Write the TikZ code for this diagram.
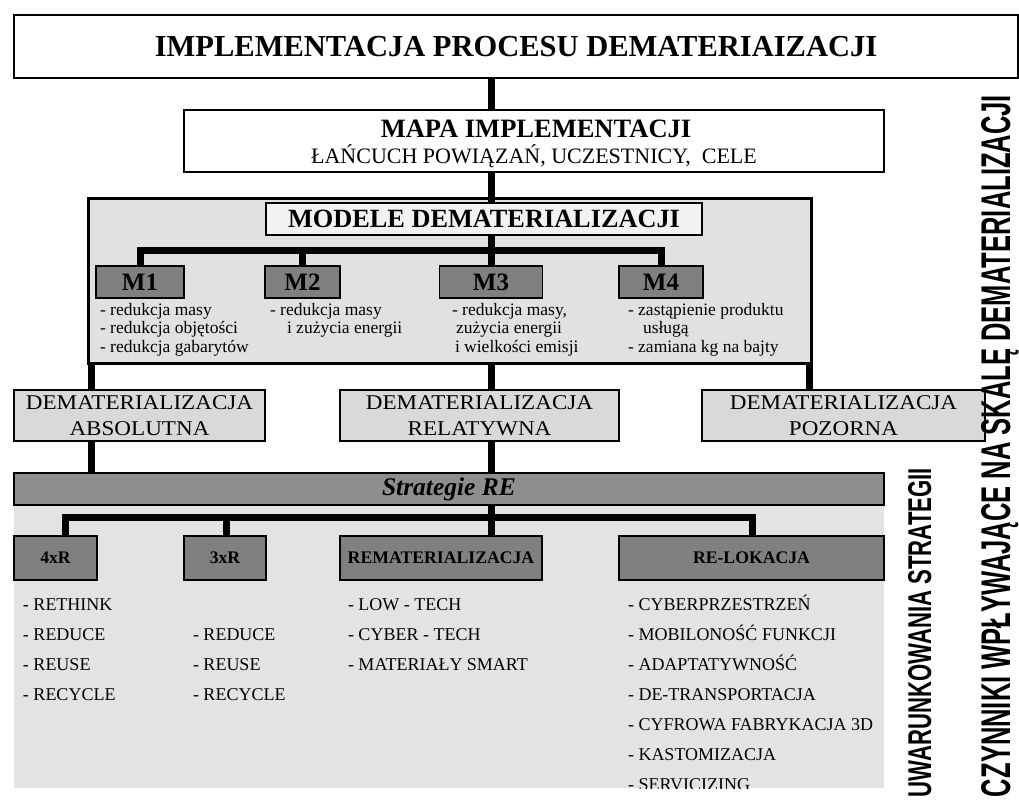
\documentclass[tikz,border=0pt]{standalone}
\usepackage{fontspec}
\usepackage{graphicx}
\setmainfont{Liberation Serif}
\newfontfamily\wideserif{Liberation Serif}[FakeStretch=1.1]
\newfontfamily\rotsans{Liberation Sans}
\pgfdeclarelayer{back}
\pgfdeclarelayer{mid}
\pgfsetlayers{back,mid,main}
\newcommand{\fsz}[1]{\fontsize{#1}{#1}\selectfont}
\definecolor{areafill}{HTML}{E1E1E1}
\definecolor{lowfill}{HTML}{E3E3E3}
\definecolor{darkfill}{HTML}{808080}
\definecolor{stratfill}{HTML}{8E8E8E}
\definecolor{dematfill}{HTML}{D9D9D9}
\definecolor{modfill}{HTML}{F2F2F2}
\begin{document}
\begin{tikzpicture}[x=1pt,y=-1pt,
  conn/.style={line width=7pt, draw=black, line join=miter},
  boxbase/.style={draw=black, inner sep=0pt, outer sep=0pt},
  whitebox/.style={boxbase, fill=white, line width=1.5pt},
  areabox/.style={boxbase, fill=areafill, line width=3pt},
  modbox/.style={boxbase, fill=modfill, line width=1.5pt},
  mbox/.style={boxbase, fill=darkfill, line width=1.2pt, font=\bfseries\fsz{25}},
  dematbox/.style={boxbase, fill=dematfill, line width=1.2pt, align=center, font=\wideserif\fontsize{21}{26}\selectfont},
  stratbox/.style={boxbase, fill=stratfill, line width=1.2pt, font=\bfseries\itshape\fsz{25.5}},
  rbox/.style={boxbase, fill=darkfill, line width=1.2pt, minimum height=44pt, font=\bfseries\fsz{17.7}},
  txt/.style={inner sep=0pt, outer sep=0pt},
  mtxt/.style={txt, anchor=base west, font=\fsz{17.5}},
  lst/.style={txt, anchor=base west, font=\fsz{18}},
  rottxt/.style={txt, rotate=90, anchor=base east}
]
\useasboundingbox (0,0) rectangle (1019,800);

% ---------- background areas ----------
\begin{pgfonlayer}{back}
  \node[areabox, minimum width=723pt, minimum height=165pt] (models) at (449.5,280.5) {};
  \node[txt, fill=lowfill, minimum width=870pt, minimum height=283pt] (lower) at (449,646.5) {};
\end{pgfonlayer}

% ---------- boxes ----------
\node[whitebox, minimum width=1004pt, minimum height=63pt, font=\bfseries\fsz{30.5}] (title) at (516,46.5) {IMPLEMENTACJA PROCESU DEMATERIAIZACJI};

\node[whitebox, minimum width=700pt, minimum height=62pt] (mapa) at (534,141) {};
\node[txt, anchor=base, font=\bfseries\fsz{26.5}] (mapaA) at (536,137) {MAPA IMPLEMENTACJI};
\node[txt, anchor=base, font=\fsz{22}] (mapaB) at (534,163) {ŁAŃCUCH POWIĄZAŃ, UCZESTNICY,\ \ CELE};

\node[modbox, minimum width=436pt, minimum height=32pt, font=\bfseries\fsz{26.3}] (modele) at (484,219) {MODELE DEMATERIALIZACJI};

\node[mbox, minimum width=88pt, minimum height=32pt] (m1) at (140,282) {M1};
\node[mbox, minimum width=75pt, minimum height=32pt] (m2) at (302.5,282) {M2};
\node[mbox, minimum width=103pt, minimum height=32pt] (m3) at (491,282) {M3};
\node[mbox, minimum width=84pt, minimum height=32pt] (m4) at (661,282) {M4};

\node[mtxt] (m1a) at (100,315) {- redukcja masy};
\node[mtxt] (m1b) at (100,333.5) {- redukcja objętości};
\node[mtxt] (m1c) at (100,352) {- redukcja gabarytów};
\node[mtxt] (m2a) at (270,315) {- redukcja masy};
\node[mtxt] (m2b) at (287,333.5) {i zużycia energii};
\node[mtxt] (m3a) at (452,315) {- redukcja masy,};
\node[mtxt] (m3b) at (456,333.5) {zużycia energii};
\node[mtxt] (m3c) at (455,352) {i wielkości emisji};
\node[mtxt] (m4a) at (628,315) {- zastąpienie produktu};
\node[mtxt] (m4b) at (643,333.5) {usługą};
\node[mtxt] (m4c) at (628,352) {- zamiana kg na bajty};

\node[dematbox, minimum width=251pt, minimum height=51pt] (absol) at (139.5,415.5) {DEMATERIALIZACJA\\ABSOLUTNA};
\node[dematbox, minimum width=279pt, minimum height=51pt] (relat) at (479.5,415.5) {DEMATERIALIZACJA\\RELATYWNA};
\node[dematbox, minimum width=283pt, minimum height=51pt] (pozor) at (843.5,415.5) {DEMATERIALIZACJA\\POZORNA};

\node[stratbox, minimum width=870pt, minimum height=32pt] (strat) at (449,489) {Strategie RE};

\node[rbox, minimum width=83pt] (r4) at (55.5,558) {4xR};
\node[rbox, minimum width=82pt] (r3) at (225,558) {3xR};
\node[rbox, minimum width=202pt] (remat) at (441,558) {REMATERIALIZACJA};
\node[rbox, minimum width=265pt] (relok) at (751.5,558) {RE-LOKACJA};

\begin{scope}
  \clip (lower.north west) rectangle (lower.south east);
  \foreach \t [count=\i] in {- RETHINK, - REDUCE, - REUSE, - RECYCLE}
    \node[lst] (la\i) at (23,{610+30*(\i-1)}) {\t};
  \foreach \t [count=\i] in {- REDUCE, - REUSE, - RECYCLE}
    \node[lst] (lb\i) at (193,{640+30*(\i-1)}) {\t};
  \foreach \t [count=\i] in {- LOW - TECH, - CYBER - TECH, - MATERIAŁY SMART}
    \node[lst] (lc\i) at (348,{610+30*(\i-1)}) {\t};
  \foreach \t [count=\i] in {- CYBERPRZESTRZEŃ, - MOBILONOŚĆ FUNKCJI, - ADAPTATYWNOŚĆ, - DE-TRANSPORTACJA, - CYFROWA FABRYKACJA 3D, - KASTOMIZACJA, - SERVICIZING}
    \node[lst] (ld\i) at (628,{610+30*(\i-1)}) {\t};
\end{scope}

% ---------- rotated side texts ----------
\node[rottxt] (czyn) at (1010,95) {\resizebox{702pt}{29pt}{\rotsans\bfseries CZYNNIKI WPŁYWAJĄCE NA SKALĘ DEMATERIALIZACJI}};
\node[rottxt] (uwar) at (931,468) {\resizebox{329pt}{23pt}{\rotsans\bfseries UWARUNKOWANIA STRATEGII}};

% ---------- connectors ----------
\coordinate (sp) at (491,0);
\coordinate (lx) at (91,0);
\coordinate (rx) at (809,0);
\coordinate (mbar) at (0,250);
\coordinate (sbar) at (0,517);
\coordinate (xa) at (65,0);
\coordinate (xb) at (226,0);
\coordinate (xd) at (752,0);
\begin{pgfonlayer}{mid}
  \draw[conn] (title.south -| sp) -- (mapa.north -| sp);
  \draw[conn] (mapa.south -| sp) -- (modele.north -| sp);
  \draw[conn] (modele.south -| sp) -- (m3.north -| sp);
  \draw[conn] (m1.north) -- (m1.north |- mbar) -- (m4.north |- mbar) -- (m4.north);
  \draw[conn] (m2.north) -- (m2.north |- mbar);
  \draw[conn] (models.south -| lx) -- (absol.north -| lx);
  \draw[conn] (absol.south -| lx) -- (strat.north -| lx);
  \draw[conn] (models.south -| sp) -- (relat.north -| sp);
  \draw[conn] (relat.south -| sp) -- (strat.north -| sp);
  \draw[conn] (models.south -| rx) -- (pozor.north -| rx);
  \draw[conn] (r4.north -| xa) -- (xa |- sbar) -- (xd |- sbar) -- (relok.north -| xd);
  \draw[conn] (r3.north -| xb) -- (xb |- sbar);
  \draw[conn] (strat.south -| sp) -- (remat.north -| sp);
\end{pgfonlayer}
\end{tikzpicture}
\end{document}
